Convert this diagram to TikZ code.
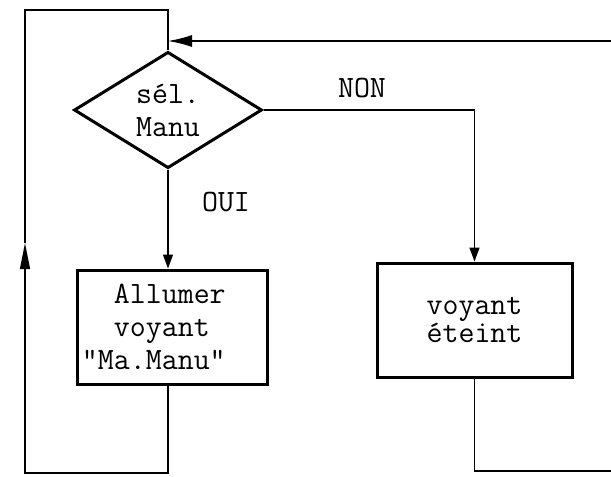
\documentclass[tikz,border=0pt]{standalone}
\usetikzlibrary{shapes.geometric,arrows.meta}

\begin{document}
\begin{tikzpicture}[x=0.5pt,y=-0.5pt,
    texte/.style={font=\ttfamily\fontsize{15.5}{16.5}\selectfont},
    decision/.style={texte,diamond,draw,line width=1.5pt,inner sep=0pt,
      minimum width=94pt,minimum height=57pt,align=center},
    bloc/.style={texte,rectangle,draw,line width=1.5pt,minimum height=57pt},
    liaison/.style={line width=0.7pt},
    fleche/.style={liaison,-{Triangle[length=7pt,width=5pt]}}]
  \useasboundingbox (0,0) rectangle (611,477);
  % Define nodes
  \node[decision] (sel) at (168,110) {s\'el.\\Manu};
  \node[bloc,text width=90pt,inner xsep=2.5pt,align=left] (allume) at (172,327)
    {\phantom{"M}Allumer\\\phantom{"M}voyant\\"Ma.Manu"};
  \node[bloc,minimum width=97.5pt,align=center,
    font={\ttfamily\fontsize{15.5}{11}\selectfont}]
    (eteint) at (474.5,320) {voyant\\\'eteint};
  \node[texte] (oui) at (226,202) {OUI};
  \node[texte] (non) at (362,88) {NON};
  % Loop corners
  \coordinate (haut) at (25,10);
  \coordinate (bas) at (25,473);
  \coordinate (monte) at (25,243);
  \coordinate (jonc) at (168,41);
  \coordinate (retour) at (611,41);
  \coordinate (sortie) at (611,471);

  % Draw diagram
  \draw[fleche] (sel.south) -- (sel.south |- allume.north);
  \draw[fleche] (sel.east) -| (eteint.north);
  % back to the test
  \draw[liaison,-{Triangle[length=13pt,width=5pt]}]
    (sel.south |- allume.south) |- (bas) -- (monte);
  \draw[liaison] (monte) -- (haut) -| (jonc) -- (sel.north);
  \draw[liaison] (eteint.south) |- (sortie);
  \draw[liaison,-{Latex[length=12pt,width=6pt]}] (retour) -- (jonc);
\end{tikzpicture}
\end{document}
